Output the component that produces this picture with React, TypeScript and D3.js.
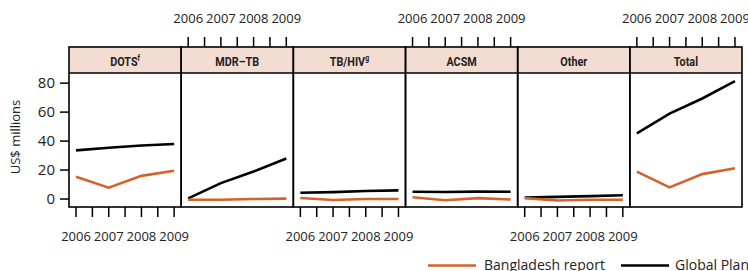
import React from "react";
import * as d3 from "d3";

const years = [2006, 2007, 2008, 2009];
const panels = ["DOTS", "MDR–TB", "TB/HIV", "ACSM", "Other", "Total"];
const superscripts = ["f", "", "g", "", "", ""];
const bangladesh = [
  [15.4, 7.8, 16, 19.5],
  [-0.5, -0.5, 0, 0.3],
  [0.7, -0.7, 0, 0],
  [1.2, -0.8, 0.6, -0.3],
  [0.6, -1, -0.5, -0.5],
  [18.9, 8, 17.2, 21.2],
];
const globalPlan = [
  [33.6, 35.4, 36.9, 38],
  [0.5, 11, 19, 28],
  [4.3, 4.8, 5.5, 6],
  [5, 4.9, 5.1, 5],
  [1, 1.5, 2, 2.6],
  [45.3, 59, 69.4, 81.4],
];
const yTicks = [0, 20, 40, 60, 80];
const xTicks = [2006, 2006.5, 2007, 2007.5, 2008, 2008.5, 2009];
const xLabels = [2006, 2007, 2008, 2009];
const seriesNames = ["Bangladesh report", "Global Plan"];

const ORANGE = "#D4622B";
const STRIP = "#F3DDD2";
const FONT = "'Open Sans', 'DejaVu Sans', sans-serif";
const STRIPFONT = "'Roboto', sans-serif";

export default function App() {
  const W = 748, H = 271;
  const left = 69, right = 742;
  const stripTop = 47, panelTop = 73, panelBottom = 207;
  const pw = (right - left) / panels.length;
  const y = d3.scaleLinear().domain([-5.5, 87]).range([panelBottom, panelTop]);
  const xFor = (i: number) =>
    d3.scaleLinear().domain([2005.785, 2009.215]).range([left + i * pw, left + (i + 1) * pw]);
  const line = (xs: d3.ScaleLinear<number, number>) =>
    d3.line<number>().x((_, j) => xs(years[j])).y((v) => y(v));

  return (
    <svg width={W} height={H} style={{ position: "absolute", left: 0, top: 0 }}>
      <rect width={W} height={H} fill="white" />
      {panels.map((p, i) => {
        const xs = xFor(i);
        const x0 = left + i * pw;
        const bottomAxis = i % 2 === 0;
        return (
          <g key={p}>
            <rect x={x0} y={stripTop} width={pw} height={panelTop - stripTop} fill={STRIP} />
            <text
              transform={`translate(${x0 + pw / 2},65.5) scale(0.8,1)`}
              textAnchor="middle"
              fontFamily={STRIPFONT}
              fontWeight="bold"
              fontSize={13.5}
              fill="#222"
            >
              {p}
              {superscripts[i] && (
                <tspan fontSize={8.5} dy={-5}>
                  {superscripts[i]}
                </tspan>
              )}
            </text>
            <path d={line(xs)(globalPlan[i]) || ""} fill="none" stroke="#000" strokeWidth={2.6} />
            <path d={line(xs)(bangladesh[i]) || ""} fill="none" stroke={ORANGE} strokeWidth={2.6} />
            {xTicks.map((t) => (
              <line
                key={t}
                x1={xs(t)}
                x2={xs(t)}
                y1={bottomAxis ? panelBottom : stripTop}
                y2={bottomAxis ? panelBottom + 10 : stripTop - 10}
                stroke="#000"
                strokeWidth={1.5}
              />
            ))}
            {xLabels.map((t) => (
              <text
                key={t}
                x={xs(t)}
                y={bottomAxis ? 241 : 23}
                textAnchor="middle"
                fontFamily={FONT}
                fontSize={13}
                fill="#222"
              >
                {t}
              </text>
            ))}
          </g>
        );
      })}
      {panels.map((p, i) => (
        <rect
          key={"b" + p}
          x={left + i * pw}
          y={stripTop}
          width={pw}
          height={panelBottom - stripTop}
          fill="none"
          stroke="#000"
          strokeWidth={1.6}
        />
      ))}
      {panels.map((p, i) => (
        <line
          key={"s" + p}
          x1={left + i * pw}
          x2={left + (i + 1) * pw}
          y1={panelTop}
          y2={panelTop}
          stroke="#000"
          strokeWidth={1.6}
        />
      ))}
      {yTicks.map((t) => (
        <g key={t}>
          <line x1={left - 9} x2={left} y1={y(t)} y2={y(t)} stroke="#000" strokeWidth={1.5} />
          <text
            x={left - 14}
            y={y(t) + 5}
            textAnchor="end"
            fontFamily={FONT}
            fontSize={15}
            fill="#222"
          >
            {t}
          </text>
        </g>
      ))}
      <text
        transform={`translate(20,${137}) rotate(-90)`}
        textAnchor="middle"
        fontFamily={FONT}
        fontSize={13}
        fill="#222"
      >
        US$ millions
      </text>
      <line x1={428} x2={476} y1={265.5} y2={265.5} stroke={ORANGE} strokeWidth={2.6} />
      <text x={484} y={270} fontFamily={FONT} fontSize={14} fill="#222">
        {seriesNames[0]}
      </text>
      <line x1={621} x2={669} y1={265.5} y2={265.5} stroke="#000" strokeWidth={2.6} />
      <text x={675} y={270} fontFamily={FONT} fontSize={14} fill="#222">
        {seriesNames[1]}
      </text>
    </svg>
  );
}
